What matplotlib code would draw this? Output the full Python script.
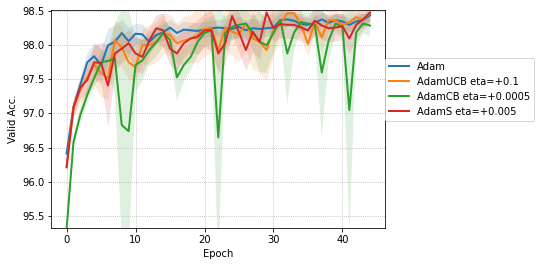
import numpy as np
import matplotlib
matplotlib.use("Agg")
import matplotlib.pyplot as plt

# Valid accuracy per epoch (mean)
epochs = list(range(45))

adam = [96.41, 97.1, 97.42, 97.75, 97.84, 97.71, 98.0, 98.05, 98.18, 98.06,
        98.17, 98.16, 98.05, 98.15, 98.19, 98.26, 98.18, 98.23, 98.22, 98.21,
        98.23, 98.25, 98.26, 98.25, 98.24, 98.27, 98.22, 98.25, 98.24, 98.25,
        98.26, 98.37, 98.38, 98.36, 98.31, 98.3, 98.33, 98.38, 98.33, 98.37,
        98.35, 98.3, 98.35, 98.37, 98.44]
adam_ucb = [96.22, 97.1, 97.35, 97.53, 97.72, 97.59, 97.52, 98.07, 97.97, 97.75,
            97.68, 98.0, 98.0, 98.05, 98.18, 98.15, 98.03, 98.07, 98.1, 98.15,
            98.24, 98.25, 97.93, 98.25, 98.2, 98.16, 98.32, 98.1, 98.05, 97.93,
            98.22, 98.32, 98.47, 98.47, 98.3, 98.02, 98.34, 98.12, 98.37, 98.37,
            98.3, 98.34, 98.41, 98.37, 98.47]
adam_cb = [95.3, 96.58, 96.98, 97.27, 97.52, 97.75, 97.77, 97.81, 96.83, 96.74,
           97.71, 97.78, 97.93, 98.04, 98.18, 98.08, 97.53, 97.71, 97.83, 98.05,
           98.18, 98.22, 96.65, 98.18, 98.27, 98.3, 98.32, 98.18, 98.05, 98.0,
           98.18, 98.37, 97.88, 98.19, 98.34, 98.32, 98.3, 97.6, 98.07, 98.32,
           98.27, 97.05, 98.19, 98.32, 98.29]
adam_s = [96.21, 97.08, 97.38, 97.49, 97.75, 97.74, 97.41, 97.88, 97.95, 98.03,
          97.88, 97.83, 98.07, 98.25, 98.22, 97.95, 97.88, 98.03, 98.1, 98.12,
          98.22, 98.22, 97.88, 98.03, 98.43, 98.19, 97.93, 98.2, 98.05, 98.48,
          98.25, 98.31, 98.3, 98.3, 98.26, 98.22, 98.36, 98.29, 98.25, 98.26,
          98.28, 98.1, 98.3, 98.38, 98.48]

# spread (std) of each run, estimated from the shaded bands
adam_std = [0.05, 0.1, 0.12, 0.15, 0.2, 0.25, 0.25, 0.25, 0.2, 0.2,
            0.15, 0.15, 0.15, 0.12, 0.12, 0.12, 0.12, 0.12, 0.12, 0.12,
            0.12, 0.12, 0.12, 0.15, 0.15, 0.15, 0.15, 0.15, 0.12, 0.12,
            0.12, 0.1, 0.1, 0.1, 0.1, 0.1, 0.1, 0.1, 0.1, 0.1,
            0.1, 0.1, 0.1, 0.1, 0.08]
ucb_std = [0.05, 0.15, 0.2, 0.25, 0.3, 0.35, 0.3, 0.3, 0.3, 0.25,
           0.2, 0.25, 0.3, 0.3, 0.3, 0.3, 0.3, 0.35, 0.35, 0.4,
           0.4, 0.35, 0.3, 0.3, 0.35, 0.4, 0.4, 0.45, 0.45, 0.45,
           0.35, 0.25, 0.15, 0.2, 0.2, 0.18, 0.15, 0.2, 0.15, 0.15,
           0.15, 0.15, 0.1, 0.1, 0.1]
cb_std = [0.05, 0.1, 0.12, 0.12, 0.15, 0.15, 0.2, 0.5, 1.7, 1.8,
          0.4, 0.3, 0.2, 0.2, 0.2, 0.2, 0.35, 0.25, 0.2, 0.2,
          0.2, 0.2, 1.9, 0.25, 0.2, 0.2, 0.2, 0.25, 0.45, 0.4,
          0.3, 0.2, 0.75, 0.25, 0.15, 0.15, 0.2, 0.95, 0.3, 0.15,
          0.15, 1.8, 0.2, 0.15, 0.15]
s_std = [0.05, 0.12, 0.15, 0.2, 0.25, 0.3, 0.6, 0.25, 0.2, 0.2,
         0.25, 0.25, 0.2, 0.2, 0.25, 0.25, 0.25, 0.2, 0.2, 0.25,
         0.25, 0.3, 0.3, 0.3, 0.25, 0.3, 0.3, 0.3, 0.25, 0.2,
         0.2, 0.2, 0.2, 0.2, 0.2, 0.2, 0.2, 0.2, 0.2, 0.2,
         0.2, 0.22, 0.2, 0.15, 0.15]

labels = ["Adam", "AdamUCB eta=+0.1", "AdamCB eta=+0.0005", "AdamS eta=+0.005"]
colors = ["tab:blue", "tab:orange", "tab:green", "tab:red"]

fig = plt.figure(figsize=(541 / 72, 266 / 72), dpi=72)
ax = fig.add_axes([0.095, 0.143, 0.617, 0.82])

for mean, std, lab, col in zip([adam, adam_ucb, adam_cb, adam_s],
                               [adam_std, ucb_std, cb_std, s_std],
                               labels, colors):
    mean = np.array(mean)
    std = np.array(std)
    ax.plot(epochs, mean, color=col, linewidth=2, label=lab)
    ax.fill_between(epochs, mean - std, mean + std, color=col, alpha=0.15,
                    linewidth=0)

ax.set_ylim(95.32, 98.52)
ax.set_xticks([0, 10, 20, 30, 40])
ax.set_yticks([95.5, 96.0, 96.5, 97.0, 97.5, 98.0, 98.5])
ax.grid(linestyle=":", color="#b0b0b0")
ax.set_xlabel("Epoch")
ax.set_ylabel("Valid Acc.")
ax.legend(loc="center left", bbox_to_anchor=(1.0, 0.635), borderaxespad=0)

fig.savefig("out.png", dpi=72)
